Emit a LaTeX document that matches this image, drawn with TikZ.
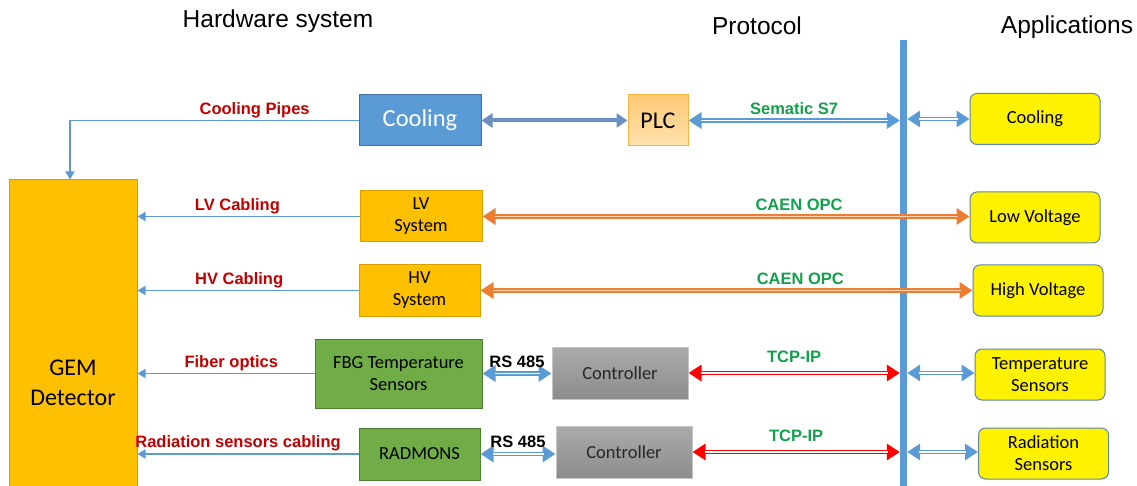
\documentclass[tikz,border=0pt]{standalone}
\usepackage{fontspec}
\setmainfont{Carlito}
\newfontfamily\arialfont{Liberation Sans}
\usetikzlibrary{arrows.meta,positioning}

\definecolor{busblue}{HTML}{5B9BD5}
\definecolor{darkblue}{HTML}{41719C}
\definecolor{gemorange}{HTML}{FFC000}
\definecolor{gemborder}{HTML}{D99E00}
\definecolor{sensgreen}{HTML}{70AD47}
\definecolor{greenborder}{HTML}{507E32}
\definecolor{caenorange}{HTML}{ED7D31}
\definecolor{labelred}{HTML}{C00000}
\definecolor{labelgreen}{HTML}{12A04C}
\definecolor{plcfill}{HTML}{FFD68A}
\definecolor{plcborder}{HTML}{F2B544}
\definecolor{pipeblue}{HTML}{6B8EC0}

\tikzset{
  hwbox/.style={draw=gemborder, fill=gemorange, line width=1pt, align=center,
    inner sep=0pt, font=\fontsize{18.5}{22}\selectfont},
  sensbox/.style={hwbox, draw=greenborder, fill=sensgreen},
  ctrlbox/.style={hwbox, draw=gray!45, top color=black!33, bottom color=black!45,
    text=black!85, minimum width=136pt, minimum height=52pt},
  appbox/.style={hwbox, draw=darkblue!85, fill=yellow, rounded corners=7pt,
    minimum width=130pt, minimum height=51pt},
  title/.style={font=\arialfont\fontsize{24.5}{28}\selectfont},
  lbl/.style={above=1pt, inner sep=1pt, text=labelred, font=\arialfont\bfseries\fontsize{16.5}{19}\selectfont},
  proto/.style={lbl, text=labelgreen},
  rs/.style={lbl, text=black},
  cable/.style={busblue, line width=1.7pt, -{Triangle[length=8pt,width=9pt]}},
  link/.style 2 args={#1, line width=4.4pt,
    {Triangle[length=13pt,width=16pt]}-{Triangle[length=13pt,width=16pt]},
    postaction={draw=#2, line width=1.3pt, -, shorten <=12pt, shorten >=12pt}},
  bluelink/.style={link={busblue}{white}},
  orangelink/.style={link={caenorange}{caenorange!35}},
  redlink/.style={link={red}{white}},
}

\begin{document}
\begin{tikzpicture}[x=1pt,y=-1pt]
  \useasboundingbox (0,0) rectangle (1137,486);

  \node[title] (hwtitle) at (278,21) {Hardware system};
  \node[title] (prtitle) at (757,26) {Protocol};
  \node[title] (aptitle) at (1067,27) {Applications};

  \node[hwbox, font=\fontsize{24}{30}\selectfont, minimum width=128pt, minimum height=406pt] (gem) at (73,383) {GEM\\Detector};
  \node[hwbox, draw=darkblue, fill=busblue, text=white, font=\fontsize{24.5}{28}\selectfont,
        minimum width=122pt, minimum height=51pt] (cool) at (420,120.5) {Cooling};
  \node[hwbox, draw=plcborder, top color=plcfill!85!orange, bottom color=plcfill!70!white,
        font=\fontsize{24}{28}\selectfont, minimum width=60pt, minimum height=51pt] (plc) at (658,120.5) {PLC};
  \node[hwbox, minimum width=122pt, minimum height=51pt] (lv) at (421,216.5) {LV\\System};
  \node[hwbox, minimum width=121pt, minimum height=51pt] (hv) at (419.5,290.5) {HV\\System};
  \node[sensbox, minimum width=167pt, minimum height=69pt] (fbg) at (398.5,373.5) {FBG Temperature\\Sensors};
  \node[sensbox, minimum width=121pt, minimum height=52pt] (radmon) at (419.5,454) {RADMONS};
  \node[ctrlbox] (ctrlA) at (620,373) {Controller};
  \node[ctrlbox] (ctrlB) at (624,452) {Controller};

  \node[fill=busblue, inner sep=0pt, minimum width=7pt, minimum height=460pt] (bus) at (903.5,270) {};

  \node[appbox] (appcool) at (1035,119) {Cooling};
  \node[appbox] (lowv) at (1035,217.5) {Low Voltage};
  \node[appbox] (highv) at (1038,290.5) {High Voltage};
  \node[appbox] (temp) at (1040,374.5) {Temperature\\Sensors};
  \node[appbox] (radapp) at (1043.5,453.5) {Radiation\\Sensors};

  \draw[cable] (cool.west) -| node[lbl, pos=.18] {Cooling Pipes} ([xshift=-3pt]gem.north);
  \draw[cable] (lv.west) -- node[lbl, pos=.55] {LV Cabling} (lv.west -| gem.east);
  \draw[cable] (hv.west) -- node[lbl, pos=.54] {HV Cabling} (hv.west -| gem.east);
  \draw[cable] (fbg.west) -- node[lbl, pos=.47] {Fiber optics} (fbg.west -| gem.east);
  \draw[cable] (radmon.west) -- node[lbl, pos=.545] {Radiation sensors cabling} (radmon.west -| gem.east);

  \draw[pipeblue, line width=4pt, {Triangle[length=11pt,width=14pt]}-{Triangle[length=11pt,width=14pt]}] (cool.east) -- (plc.west);
  \draw[bluelink] (plc.east) -- node[proto, above=3pt] {Sematic S7} (plc.east -| bus.west);
  \draw[bluelink] (bus.east |- appcool) -- (appcool.west);

  \draw[orangelink] (lv.east) -- node[proto, pos=.65, above=3pt] {CAEN OPC} (lowv.west |- lv.east);
  \draw[orangelink] (hv.east) -- node[proto, pos=.65, above=3pt] {CAEN OPC} (highv.west |- hv.east);

  \draw[bluelink] (fbg.east) -- node[rs, above=3pt] {RS 485} (ctrlA.west |- fbg.east);
  \draw[redlink] (ctrlA.east) -- node[proto, above=7pt] {TCP-IP} (ctrlA.east -| bus.west);
  \draw[bluelink] (bus.east |- ctrlA) -- (temp.west |- ctrlA);

  \draw[bluelink] (radmon.east) -- node[rs, above=3pt] {RS 485} (ctrlB.west |- radmon.east);
  \draw[redlink] (ctrlB.east) -- node[proto, above=7pt] {TCP-IP} (ctrlB.east -| bus.west);
  \draw[bluelink] (bus.east |- ctrlB) -- (radapp.west |- ctrlB);
\end{tikzpicture}
\end{document}
